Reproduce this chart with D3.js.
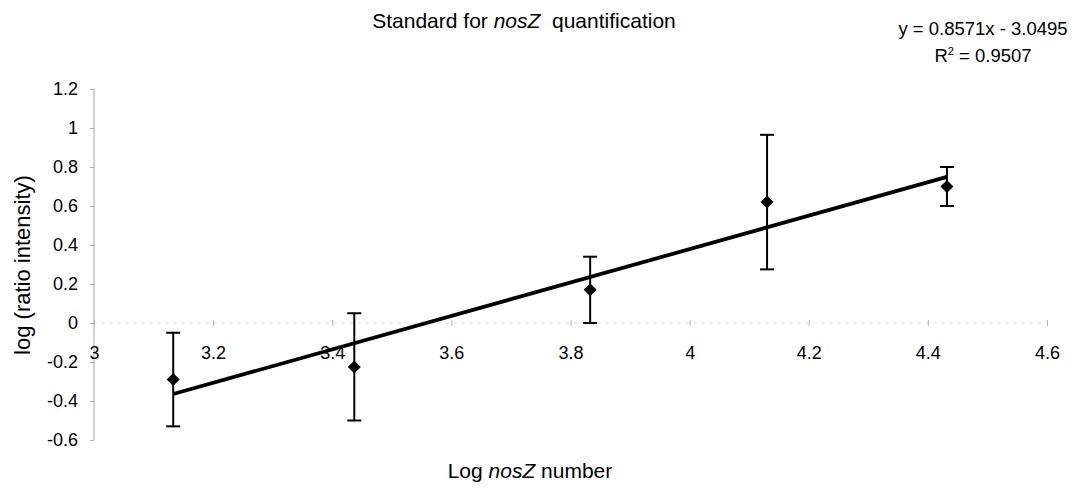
<!DOCTYPE html>
<html>
<head>
<meta charset="utf-8">
<script src="https://cdn.jsdelivr.net/npm/d3@7"></script>
<style>
  html, body { margin: 0; padding: 0; background: #fff; }
  svg { display: block; font-family: "Liberation Sans", Arial, sans-serif; }
</style>
</head>
<body>
<svg id="chart" width="1088" height="499"></svg>
<script>
// Standard curve: log gene copy number vs. log intensity ratio
const logCopies = [3.133, 3.437, 3.833, 4.13, 4.432];
const logRatio = [-0.29, -0.225, 0.17, 0.62, 0.70];
const errRatio = [0.24, 0.275, 0.17, 0.345, 0.10];

// Linear fit reported with the curve
const fitSlope = 0.8571;
const fitIntercept = -3.0495;
const fitR2 = 0.9507;

const xTicks = [3, 3.2, 3.4, 3.6, 3.8, 4, 4.2, 4.4, 4.6];
const yTicks = [-0.6, -0.4, -0.2, 0, 0.2, 0.4, 0.6, 0.8, 1, 1.2];

const svg = d3.select("#chart");
const x = d3.scaleLinear().domain([3, 4.6]).range([94, 1047]);
const y = d3.scaleLinear().domain([-0.6, 1.2]).range([440, 89]);

// Title
const title = svg.append("text")
  .attr("x", 524).attr("y", 28)
  .attr("text-anchor", "middle")
  .attr("font-size", 21);
title.append("tspan").text("Standard for ");
title.append("tspan").attr("font-style", "italic").text("nosZ");
title.append("tspan").text("\u00a0 quantification");

// Fit equation and R²
svg.append("text")
  .attr("x", 983).attr("y", 35)
  .attr("text-anchor", "middle")
  .attr("font-size", 18.5)
  .text(`y = ${fitSlope}x - ${Math.abs(fitIntercept)}`);
const r2 = svg.append("text")
  .attr("x", 983).attr("y", 62)
  .attr("text-anchor", "middle")
  .attr("font-size", 18.5);
r2.append("tspan").text("R");
r2.append("tspan").attr("font-size", 11).attr("dy", -7).text("2");
r2.append("tspan").attr("dy", 7).text(` = ${fitR2}`);

// Y axis (vertical line at x = 3)
const yAxis = svg.append("g")
  .attr("transform", `translate(${x(3)},0)`)
  .call(d3.axisLeft(y).tickValues(yTicks).tickSize(4).tickPadding(12)
    .tickFormat(d => String(+d.toFixed(1))));
yAxis.select(".domain").attr("stroke", "#a8a8a8").attr("stroke-width", 1)
  .attr("d", `M0,${y(-0.6)}V${y(1.2)}`);
yAxis.selectAll(".tick line").attr("stroke", "#b0b0b0");
yAxis.selectAll(".tick text")
  .attr("font-size", 18)
  .attr("fill", "#000")
  .attr("font-family", "Liberation Sans, Arial, sans-serif");

// X axis (horizontal line at y = 0), labels below
const xAxis = svg.append("g")
  .attr("transform", `translate(0,${y(0)})`)
  .call(d3.axisBottom(x).tickValues(xTicks).tickSize(3).tickPadding(20)
    .tickFormat(d => String(+d.toFixed(1))));
xAxis.select(".domain").attr("stroke", "#dddddd").attr("stroke-width", 1)
  .attr("stroke-dasharray", "3,5")
  .attr("d", `M${x(3)},0H${x(4.6)}`);
xAxis.selectAll(".tick line").attr("stroke", "#b8b8b8").attr("y1", -3);
xAxis.selectAll(".tick text")
  .attr("font-size", 18)
  .attr("fill", "#000")
  .attr("font-family", "Liberation Sans, Arial, sans-serif");

// Axis titles
svg.append("text")
  .attr("transform", `translate(30,${265}) rotate(-90)`)
  .attr("text-anchor", "middle")
  .attr("font-size", 22)
  .text("log (ratio intensity)");

const xt = svg.append("text")
  .attr("x", 530).attr("y", 478)
  .attr("text-anchor", "middle")
  .attr("font-size", 21);
xt.append("tspan").text("Log ");
xt.append("tspan").attr("font-style", "italic").text("nosZ");
xt.append("tspan").text(" number");

// Regression line across the data range
const x0 = d3.min(logCopies), x1 = d3.max(logCopies);
svg.append("line")
  .attr("x1", x(x0)).attr("y1", y(fitSlope * x0 + fitIntercept))
  .attr("x2", x(x1)).attr("y2", y(fitSlope * x1 + fitIntercept))
  .attr("stroke", "#000").attr("stroke-width", 3.8);

// Error bars
const pts = logCopies.map((v, i) => ({ x: v, y: logRatio[i], e: errRatio[i] }));
const eb = svg.append("g").attr("stroke", "#000").attr("stroke-width", 2);
pts.forEach(p => {
  const cx = x(p.x);
  eb.append("line").attr("x1", cx).attr("x2", cx)
    .attr("y1", y(p.y + p.e)).attr("y2", y(p.y - p.e));
  [p.y + p.e, p.y - p.e].forEach(v => {
    eb.append("line").attr("x1", cx - 7).attr("x2", cx + 7)
      .attr("y1", y(v)).attr("y2", y(v));
  });
});

// Diamond markers
svg.append("g").selectAll("path")
  .data(pts)
  .join("path")
  .attr("d", p => {
    const cx = x(p.x), cy = y(p.y), r = 6.5;
    return `M${cx},${cy - r}L${cx + r},${cy}L${cx},${cy + r}L${cx - r},${cy}Z`;
  })
  .attr("fill", "#000");
</script>
</body>
</html>
